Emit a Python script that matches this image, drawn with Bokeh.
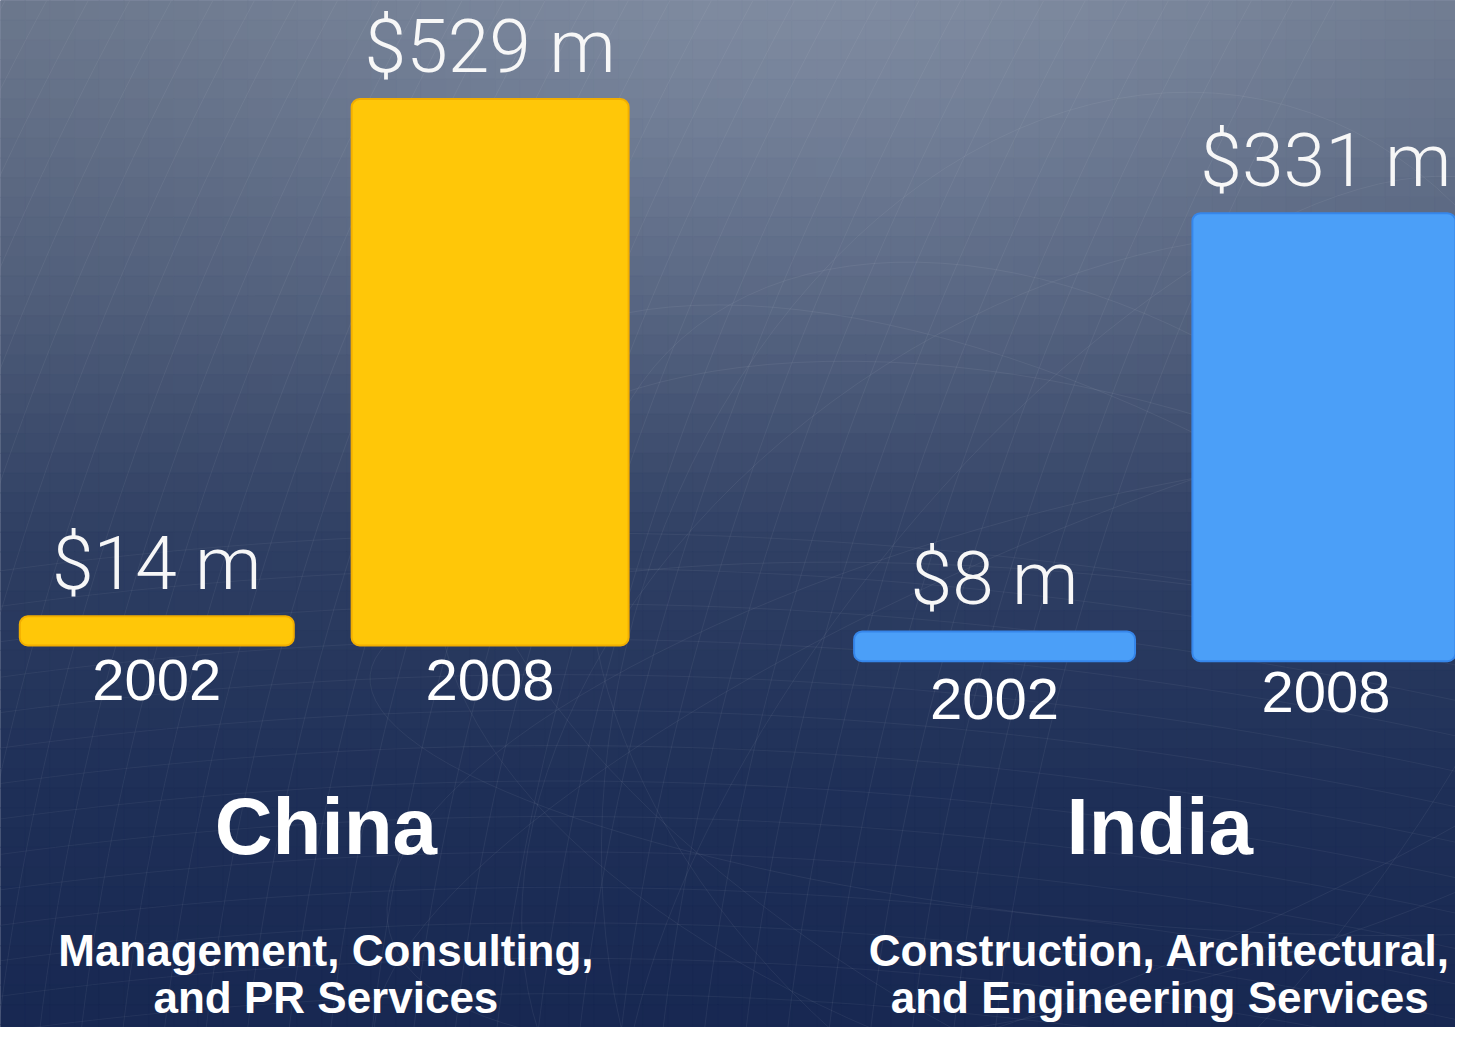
import numpy as np
from bokeh.plotting import figure
from bokeh.models import Range1d, ColumnDataSource
from bokeh.core.properties import value
from bokeh.embed import file_html
from bokeh.resources import INLINE

# ---------------- data ----------------
countries = ["China", "India"]
sector_line1 = ["Management, Consulting,", "Construction, Architectural,"]
sector_line2 = ["and PR Services", "and Engineering Services"]
years = ["2002", "2008"]
china_values = [14, 529]
india_values = [8, 331]

# ---------------- layout (reference pixel coords, 1471 x 1043) ----------------
W, H = 1455, 1027
RW, RH = 1471, 1043
BASE = -15                     # plinth depth of the 3-D slabs (value units)
bar_centers = {"China": [158, 495], "India": [1005, 1340]}
bar_widths = {"China": [277, 280], "India": [284, 270]}
base_px = {"China": 655, "India": 671}
px_per_unit = {"China": 1.02, "India": 1.315}
label_gap_px = 54
year_label_y = {"China": [690, 690], "India": [709, 702]}
title_x = {"China": 329, "India": 1172}
bar_fill = {"China": "#FFC708", "India": "#4B9FF8"}
bar_edge = {"China": "#F2AE00", "India": "#3686EA"}

p = figure(width=W, height=H, output_backend="svg", toolbar_location=None,
           x_range=Range1d(0, RW), y_range=Range1d(RH, 0),
           min_border=0, outline_line_color=None)
p.axis.visible = False
p.grid.visible = False
p.background_fill_color = "#1c2d58"
p.border_fill_color = "#1c2d58"

# ---------------- background gradient ----------------
keys_y = np.array([0, 300, 550, 800, 1043], dtype=float)
keys_c = np.array([[104, 116, 137], [78, 92, 120], [46, 62, 98], [31, 48, 88], [24, 40, 82]], dtype=float)
cw, ch = 25, 20
xs = np.arange(0, RW + 5, cw)
ys = np.arange(0, RH + 5, ch)
L, R, T, B, C = [], [], [], [], []
for yy in ys:
    yc = yy + ch / 2
    base = np.array([np.interp(yc, keys_y, keys_c[:, k]) for k in range(3)])
    for xx in xs:
        xc = xx + cw / 2
        hl = 24 * np.exp(-(((xc - 850) / 650) ** 2 + (yc / 380) ** 2))
        col = np.clip(base + hl, 0, 255).astype(int)
        L.append(xx); R.append(xx + cw); T.append(yy); B.append(yy + ch)
        C.append("#%02x%02x%02x" % tuple(col))
p.quad(left=L, right=R, top=T, bottom=B, fill_color=C, line_color=C, line_width=1)

# ---------------- faint mesh lines ----------------
mx, my = [], []
t = np.linspace(0, RH, 60)
for i in range(34):
    x0 = -380 + i * 42
    d = RH - t
    mx.append(list(x0 + 0.12 * d + 0.0002 * d ** 2)); my.append(list(t))
p.multi_line(mx, my, line_color="white", line_alpha=0.06, line_width=1)
hx, hy = [], []
xx_ = np.linspace(0, RW, 80)
for j in range(14):
    y0 = 560 + j * 36
    hx.append(list(xx_)); hy.append(list(y0 + 0.00012 * (xx_ - 400) ** 2 - 0.04 * xx_))
p.multi_line(hx, hy, line_color="white", line_alpha=0.05, line_width=1)
p.ellipse(x=[1120] * 9, y=[760] * 9, width=[1500, 1400, 1300, 1500, 1400, 1200, 1600, 1350, 1450],
          height=[500, 700, 900, 350, 600, 800, 450, 1000, 650],
          angle=[0.25, -0.3, 0.6, -0.1, 0.9, -0.7, 0.4, 1.3, -0.5],
          fill_alpha=0, line_color="white", line_alpha=0.06, line_width=1)

# ---------------- bars ----------------
values = {"China": china_values, "India": india_values}
for c in countries:
    k = px_per_unit[c]
    start = BASE - (RH - base_px[c]) / k
    end = BASE + base_px[c] / k
    p.extra_y_ranges[c] = Range1d(start, end)
    src = ColumnDataSource(dict(x=bar_centers[c], w=bar_widths[c], top=values[c],
                                bottom=[BASE] * len(values[c]),
                                label=[f"${v} m" for v in values[c]],
                                ly=[v + label_gap_px / k for v in values[c]]))
    p.vbar(x="x", width="w", top="top", bottom="bottom", source=src, y_range_name=c,
           fill_color=bar_fill[c], line_color=bar_edge[c], line_width=2, border_radius=8)
    p.text(x="x", y="ly", text="label", source=src, y_range_name=c,
           text_align="center", text_baseline="middle", text_color="#f7f7f7",
           text_font=value("Roboto Light"), text_font_size="75px")
    p.text(x=bar_centers[c], y=year_label_y[c], text=years,
           text_align="center", text_baseline="middle", text_color="white",
           text_font=value("Liberation Sans"), text_font_size="58px")

# ---------------- titles ----------------
tx = [title_x[c] for c in countries]
p.text(x=tx, y=[839, 839], text=countries, text_align="center", text_baseline="middle",
       text_color="white", text_font=value("Liberation Sans"), text_font_style="bold",
       text_font_size="80px")
p.text(x=tx, y=[965, 965], text=sector_line1, text_align="center", text_baseline="middle",
       text_color="white", text_font=value("Liberation Sans"), text_font_style="bold",
       text_font_size="44px")
p.text(x=tx, y=[1013, 1013], text=sector_line2, text_align="center", text_baseline="middle",
       text_color="white", text_font=value("Liberation Sans"), text_font_style="bold",
       text_font_size="44px")

open("out.html", "w").write(file_html(p, INLINE))
